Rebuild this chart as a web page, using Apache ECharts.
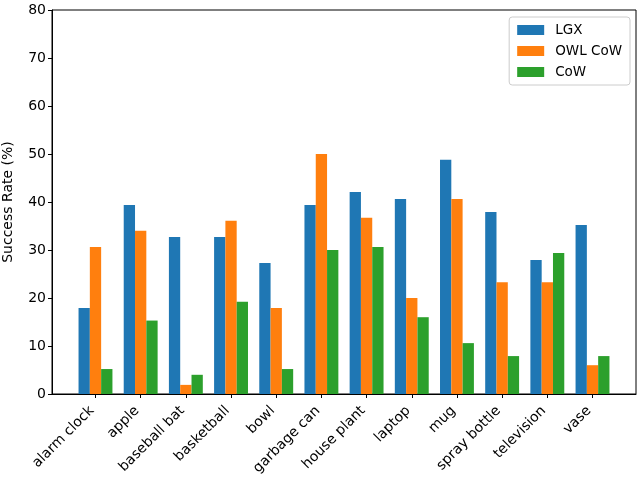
<!DOCTYPE html>
<html>
<head>
<meta charset="utf-8">
<script src="https://cdn.jsdelivr.net/npm/echarts@6/dist/echarts.min.js"></script>
<style>html,body{margin:0;padding:0;background:#fff}#c{width:640px;height:480px}</style>
</head>
<body>
<div id="c"></div>
<script>
const categories = ['alarm clock','apple','baseball bat','basketball','bowl','garbage can','house plant','laptop','mug','spray bottle','television','vase'];
const lgx    = [17.9, 39.4, 32.7, 32.7, 27.3, 39.4, 42.1, 40.6, 48.8, 37.9, 27.9, 35.2];
const owlCow = [30.6, 34.0, 1.9, 36.1, 17.9, 50.0, 36.7, 20.0, 40.6, 23.3, 23.3, 6.0];
const cow    = [5.2, 15.3, 4.0, 19.2, 5.2, 30.0, 30.6, 16.0, 10.6, 7.9, 29.4, 7.9];
const yTicks = [0,10,20,30,40,50,60,70,80];

const idx = categories.map((_, i) => i);
const toData = arr => arr.map((v, i) => [i, v]);
const font = 'DejaVu Sans';
const chart = echarts.init(document.getElementById('c'), null, {renderer:'canvas'});
chart.setOption({
  animation: false,
  grid: {left: 52, right: 4, top: 10, bottom: 86, show: true, borderColor: '#000', borderWidth: 1,
    containLabel: false, outerBoundsMode: 'none'},
  legend: {
    orient: 'vertical', right: 10, top: 17,
    itemWidth: 27, itemHeight: 10, itemGap: 7,
    icon: 'rect',
    borderColor: '#cccccc', borderWidth: 1, borderRadius: 3,
    padding: [6, 8, 6, 8],
    textStyle: {fontFamily: font, fontSize: 13.5, color: '#000', padding: [0, 0, 0, 6]},
    data: ['LGX', 'OWL CoW', 'CoW']
  },
  xAxis: {
    type: 'value', min: -0.9625, max: 11.9625,
    splitLine: {show: false},
    axisLine: {show: true, onZero: false, lineStyle: {color: '#000'}},
    axisTick: {show: true, customValues: idx, length: 4, lineStyle: {color: '#000'}},
    axisLabel: {customValues: idx, rotate: 45, fontFamily: font, fontSize: 14, color: '#000', margin: 11,
      padding: [0, 5, 0, 0],
      formatter: v => categories[Math.round(v)]}
  },
  yAxis: {
    type: 'value', min: 0, max: 80, interval: 10,
    name: 'Success Rate (%)', nameLocation: 'middle', nameGap: 37,
    nameTextStyle: {fontFamily: font, fontSize: 14, color: '#000'},
    splitLine: {show: false},
    axisLine: {show: true, onZero: false, lineStyle: {color: '#000'}},
    axisTick: {show: true, inside: false, length: 4, lineStyle: {color: '#000'}},
    axisLabel: {fontFamily: font, fontSize: 14, color: '#000', margin: 6}
  },
  series: [
    {name: 'LGX', type: 'bar', data: toData(lgx), barWidth: 11.3, barGap: '0%', itemStyle: {color: '#1f77b4'}},
    {name: 'OWL CoW', type: 'bar', data: toData(owlCow), barWidth: 11.3, barGap: '0%', itemStyle: {color: '#ff7f0e'}},
    {name: 'CoW', type: 'bar', data: toData(cow), barWidth: 11.3, barGap: '0%', itemStyle: {color: '#2ca02c'}}
  ]
});
</script>
</body>
</html>
